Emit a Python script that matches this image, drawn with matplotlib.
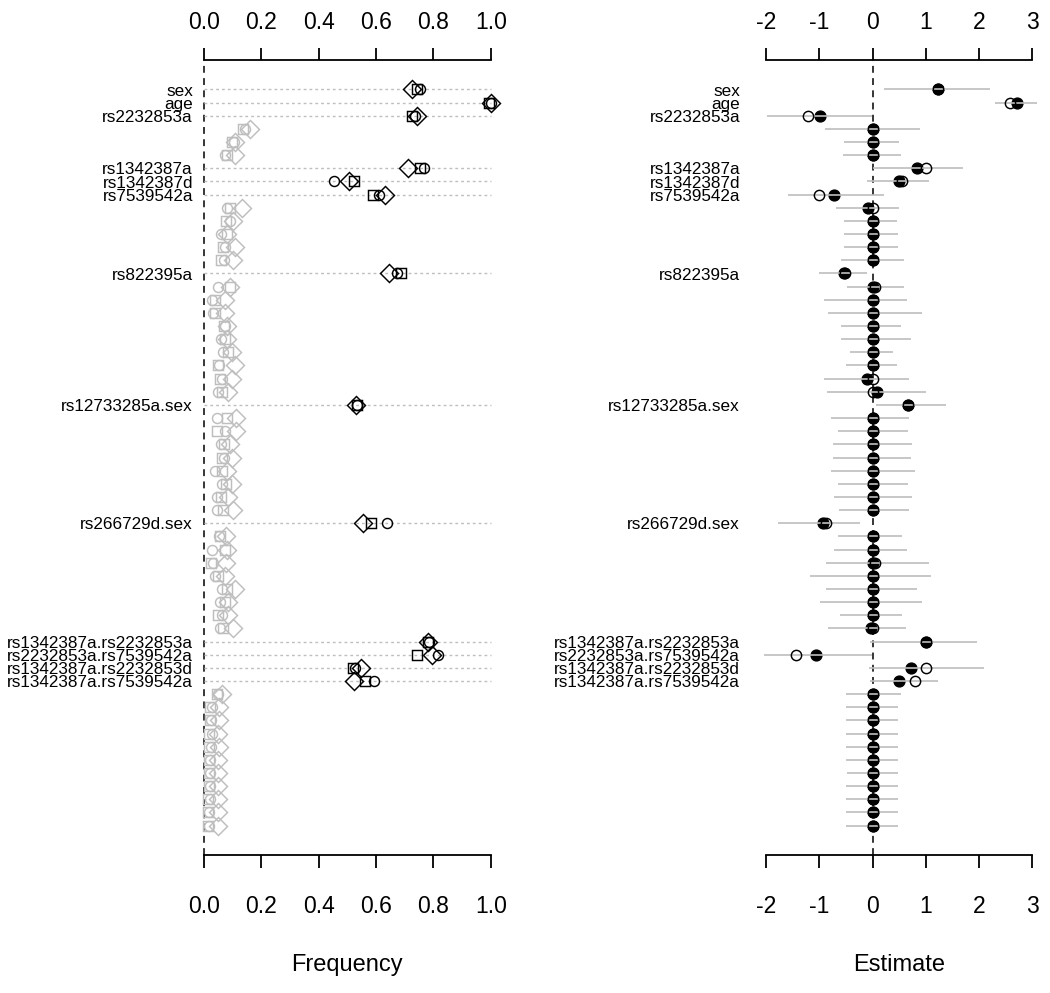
import matplotlib
matplotlib.use("Agg")
import matplotlib.pyplot as plt
import matplotlib.transforms as mtransforms
import numpy as np

plt.rcParams['font.family'] = ['Liberation Sans', 'DejaVu Sans']

row_labels = ["sex", "age", "rs2232853a", "", "", "",
              "rs1342387a", "rs1342387d", "rs7539542a", "", "", "", "", "",
              "rs822395a", "", "", "", "", "", "", "", "", "",
              "rs12733285a.sex", "", "", "", "", "", "", "", "",
              "rs266729d.sex", "", "", "", "", "", "", "", "",
              "rs1342387a.rs2232853a", "rs2232853a.rs7539542a",
              "rs1342387a.rs2232853d", "rs1342387a.rs7539542a",
              "", "", "", "", "", "", "", "", "", "", ""]

freq_circle = [0.753, 1.000, 0.735, 0.143, 0.105, 0.073, 0.767, 0.453, 0.612,
               0.081, 0.091, 0.058, 0.073, 0.070, 0.672,
               0.050, 0.027, 0.033, 0.073, 0.058, 0.065, 0.053, 0.062, 0.050,
               0.535, 0.044, 0.073, 0.058, 0.070, 0.038, 0.062, 0.047, 0.047,
               0.640, 0.053, 0.027, 0.033, 0.038, 0.062, 0.056, 0.062, 0.056,
               0.785, 0.817, 0.527, 0.593,
               0.050, 0.027, 0.025, 0.027, 0.024, 0.022, 0.022, 0.020, 0.020, 0.018, 0.018]
freq_square = [0.742, 0.995, 0.725, 0.135, 0.097, 0.080, 0.753, 0.523, 0.588,
               0.091, 0.077, 0.079, 0.065, 0.058, 0.686,
               0.091, 0.038, 0.038, 0.070, 0.075, 0.085, 0.050, 0.056, 0.062,
               0.535, 0.081, 0.044, 0.070, 0.062, 0.062, 0.077, 0.058, 0.065,
               0.581, 0.056, 0.073, 0.023, 0.050, 0.081, 0.073, 0.050, 0.065,
               0.780, 0.744, 0.521, 0.562,
               0.044, 0.020, 0.020, 0.019, 0.019, 0.018, 0.017, 0.016, 0.015, 0.014, 0.014]
freq_diamond = [0.724, 1.000, 0.742, 0.160, 0.108, 0.108, 0.713, 0.507, 0.631,
                0.131, 0.102, 0.082, 0.108, 0.100, 0.646,
                0.090, 0.073, 0.073, 0.081, 0.080, 0.097, 0.108, 0.097, 0.085,
                0.530, 0.112, 0.112, 0.091, 0.097, 0.079, 0.097, 0.085, 0.102,
                0.553, 0.077, 0.081, 0.077, 0.073, 0.108, 0.085, 0.085, 0.102,
                0.780, 0.794, 0.547, 0.523,
                0.062, 0.052, 0.052, 0.050, 0.052, 0.050, 0.050, 0.050, 0.048, 0.048, 0.048]

est_filled = [1.236, 2.72, -0.986, 0, 0, 0, 0.842, 0.497, -0.716,
              -0.078, 0, 0, 0, 0, -0.535,
              0, 0, 0, 0, 0, 0, 0, -0.10, 0.08,
              0.673, 0, 0, 0, 0, 0, 0, 0, 0,
              -0.92, 0, 0, 0, 0, 0, 0, 0, -0.03,
              0.998, -1.067, 0.717, 0.503,
              0, 0, 0, 0, 0, 0, 0, 0, 0, 0, 0]
est_open = [1.236, 2.58, -1.205, 0, 0, 0, 0.998, 0.56, -0.998,
            0.0, 0, 0, 0, 0, -0.52,
            0.05, 0, 0, 0, 0, 0, 0, 0.0, 0.0,
            0.673, 0, 0, 0, 0, 0, 0, 0, 0,
            -0.87, 0, 0, 0.05, 0, 0, 0, 0, 0,
            0.998, -1.436, 0.998, 0.798,
            0, 0, 0, 0, 0, 0, 0, 0, 0, 0, 0]
ci_low = [0.22, 2.30, -1.975, -0.89, -0.535, -0.56, 0.0, -0.097, -1.59,
          -0.685, -0.535, -0.535, -0.535, -0.59, -1.0,
          -0.47, -0.91, -0.83, -0.59, -0.59, -0.42, -0.50, -0.91, -0.86,
          0.066, -0.77, -0.64, -0.735, -0.735, -0.77, -0.64, -0.716, -0.62,
          -1.77, -0.64, -0.716, -0.88, -1.17, -0.88, -0.985, -0.61, -0.83,
          -0.05, -2.03, -0.06, -0.05,
          -0.50, -0.50, -0.50, -0.50, -0.50, -0.50, -0.47, -0.50, -0.50, -0.50, -0.50]
ci_high = [2.21, 3.08, -0.016, 0.89, 0.503, 0.53, 1.705, 1.06, 0.216,
           0.503, 0.454, 0.47, 0.47, 0.60, -0.097,
           0.60, 0.65, 0.92, 0.53, 0.72, 0.39, 0.454, 0.685, 1.0,
           1.38, 0.685, 0.66, 0.735, 0.72, 0.80, 0.66, 0.735, 0.685,
           -0.235, 0.56, 0.65, 1.06, 1.09, 0.83, 0.92, 0.56, 0.62,
           1.97, -0.016, 2.09, 1.22,
           0.53, 0.47, 0.47, 0.47, 0.47, 0.47, 0.47, 0.47, 0.47, 0.47, 0.47]

freq_ticks = [0.0, 0.2, 0.4, 0.6, 0.8, 1.0]
freq_ticklabels = ["0.0", "0.2", "0.4", "0.6", "0.8", "1.0"]
est_ticks = [-2, -1, 0, 1, 2, 3]
est_ticklabels = ["-2", "-1", "0", "1", "2", "3"]

GRAY = "#BEBEBE"
W, H = 1050, 993
fig = plt.figure(figsize=(W / 100, H / 100), dpi=100)

n = len(row_labels)
rows = np.arange(n)
ypad = (n - 1) * 0.04
sig = np.array([lab != "" for lab in row_labels])

bottom = 1 - 855 / H
height = (855 - 60) / H
axL = fig.add_axes([192.5 / W, bottom, 309.7 / W, height])
axR = fig.add_axes([755.3 / W, bottom, 287.7 / W, height])


def style_axis(ax, lo, hi, ticks, ticklabels):
    ax.set_ylim(n - 1 + ypad, -ypad)
    for s in ["left", "right", "top"]:
        ax.spines[s].set_visible(False)
    ax.spines["bottom"].set_bounds(lo, hi)
    ax.spines["bottom"].set_linewidth(1.3)
    ax.set_yticks([])
    ax.set_xticks(ticks)
    ax.set_xticklabels(ticklabels)
    ax.tick_params(axis="x", direction="out", length=9, width=1.3,
                   labelsize=16.5, pad=20)
    sec = ax.secondary_xaxis("top")
    sec.set_xticks(ticks)
    sec.set_xticklabels(ticklabels)
    sec.spines["top"].set_bounds(lo, hi)
    sec.spines["top"].set_linewidth(1.3)
    sec.tick_params(axis="x", direction="out", length=9, width=1.3,
                    labelsize=16.5, pad=10)


# ---- left panel: frequencies
axL.set_xlim(-0.04, 1.04)
style_axis(axL, 0, 1, freq_ticks, freq_ticklabels)
axL.axvline(0, color="black", lw=1.1, dashes=(4.5, 3.5), zorder=1)
for r in rows[sig]:
    axL.plot([0, 1], [r, r], color=GRAY, lw=1.0, dashes=(2.0, 2.2), zorder=1)
for vals, mk, ms in [(freq_circle, "o", 7.2), (freq_square, "s", 6.6),
                     (freq_diamond, "D", 9.2)]:
    vals = np.asarray(vals)
    for mask, col, z in [(~sig, GRAY, 2), (sig, "black", 3)]:
        axL.plot(vals[mask], rows[mask], linestyle="none", marker=mk, ms=ms,
                 mfc="none", mec=col, mew=1.05, zorder=z)

# ---- right panel: estimates
axR.set_xlim(-2.2, 3.2)
style_axis(axR, -2, 3, est_ticks, est_ticklabels)
axR.axvline(0, color="black", lw=1.1, dashes=(4.5, 3.5), zorder=1)
axR.plot(est_filled, rows, linestyle="none", marker="o", ms=7.8,
         mfc="black", mec="black", mew=1.0, zorder=2)
axR.hlines(rows, ci_low, ci_high, color=GRAY, lw=1.2, zorder=3)
axR.plot(est_open, rows, linestyle="none", marker="o", ms=7.4,
         mfc="none", mec="black", mew=1.05, zorder=4)

# ---- row labels
for ax, xoff in [(axL, 0.0016), (axR, -0.053)]:
    trans = mtransforms.blended_transform_factory(ax.transAxes, ax.transData)
    for r, lab in zip(rows, row_labels):
        if lab:
            ax.text(xoff, r + 0.12, lab, transform=trans, ha="right", va="center",
                    fontsize=12.3, clip_on=False)

fig.text(347 / W, 1 - 965 / H, "Frequency", ha="center", va="center", fontsize=17)
fig.text(899 / W, 1 - 965 / H, "Estimate", ha="center", va="center", fontsize=17)

fig.savefig("out.png", dpi=100)
